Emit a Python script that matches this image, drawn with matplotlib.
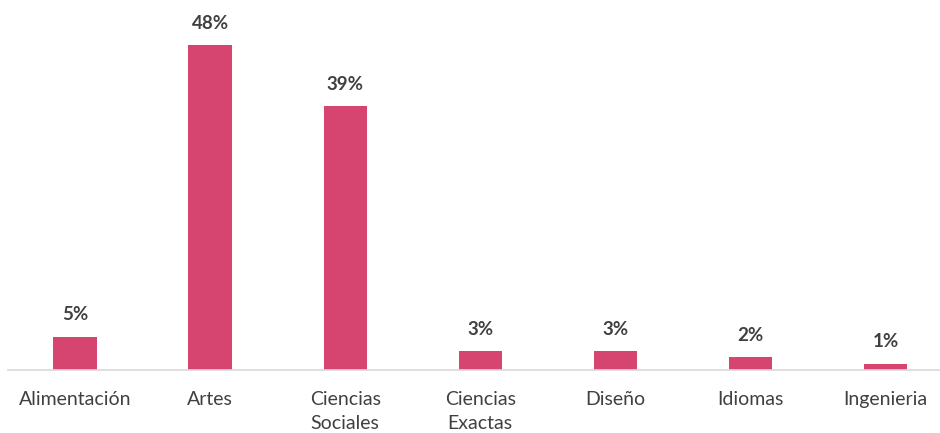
import matplotlib.pyplot as plt

categorias = ["Alimentación", "Artes", "Ciencias\nSociales", "Ciencias\nExactas",
              "Diseño", "Idiomas", "Ingenieria"]
valores = [4.9, 48, 39, 2.8, 2.8, 1.9, 0.9]
etiquetas = ["5%", "48%", "39%", "3%", "3%", "2%", "1%"]

plt.rcParams['font.family'] = ['Lato', 'DejaVu Sans']

fig = plt.figure(figsize=(9.4, 4.33), dpi=100)
ax = fig.add_axes([7.5 / 940, 63 / 433, 932 / 940, 360 / 433])

x = range(len(categorias))
barras = ax.bar(x, valores, width=0.32, color="#D64570")

for b, t in zip(barras, etiquetas):
    ax.text(b.get_x() + b.get_width() / 2, b.get_height() + 2.0, t,
            ha="center", va="bottom", fontsize=13.5, fontweight="bold", color="#404040")

ax.set_xlim(-0.5, 6.40)
ax.set_ylim(0, 53.2)
ax.set_xticks(list(x))
ax.set_xticklabels(categorias, fontsize=14, color="#404040", linespacing=1.5)
ax.tick_params(axis="x", length=0, pad=15)
ax.set_yticks([])
for s in ["top", "right", "left"]:
    ax.spines[s].set_visible(False)
ax.spines["bottom"].set_color("#D9D9D9")
ax.spines["bottom"].set_linewidth(1.2)

fig.savefig("out.png", dpi=100)
